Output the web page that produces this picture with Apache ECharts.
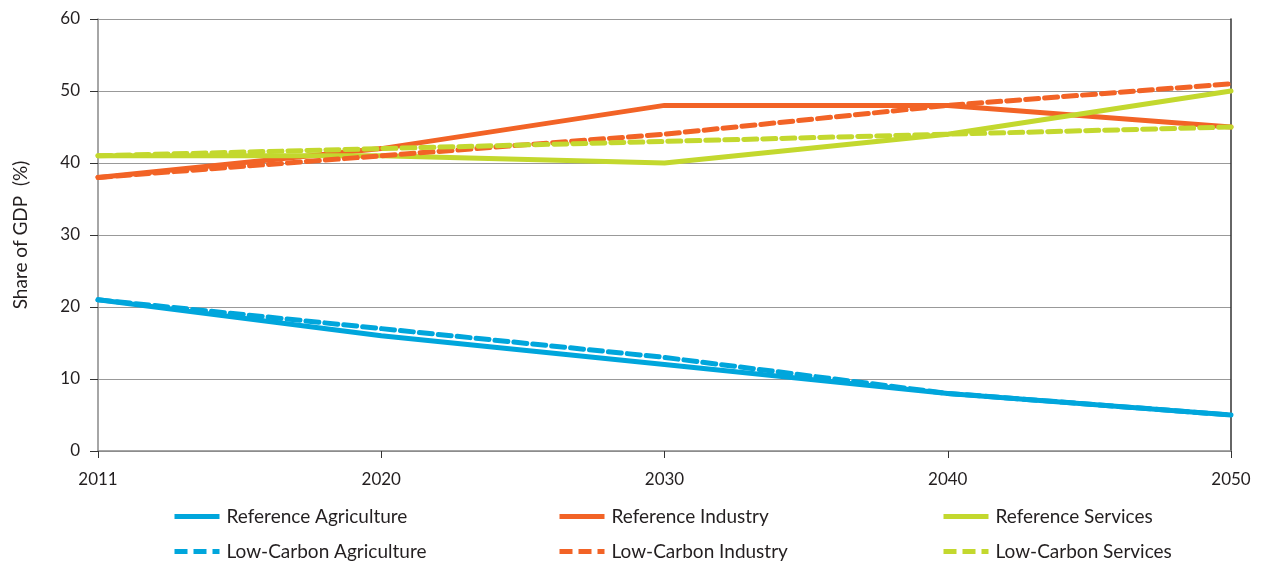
<!DOCTYPE html>
<html>
<head>
<meta charset="utf-8">
<script src="https://cdn.jsdelivr.net/npm/echarts@6/dist/echarts.min.js"></script>
<style>html,body{margin:0;padding:0;background:#fff}#c{width:1266px;height:566px}</style>
</head>
<body>
<div id="c"></div>
<script>
const years = ['2011', '2020', '2030', '2040', '2050'];
const refAgriculture = [21, 16, 12, 8, 5];
const lcAgriculture = [21, 17, 13, 8, 5];
const refIndustry = [38, 42, 48, 48, 45];
const lcIndustry = [38, 41, 44, 48, 51];
const refServices = [41, 41, 40, 44, 50];
const lcServices = [41, 42, 43, 44, 45];
const yTicks = [0, 10, 20, 30, 40, 50, 60];

const BLUE = '#00a6dc', ORANGE = '#f26326', GREEN = '#c3d82e';
const FONT = 'Lato';
const DASH = [13, 6];

function mk(name, data, color, dashed) {
  return {
    name, type: 'line', data, showSymbol: false, symbol: 'none',
    lineStyle: { color, width: 5, type: dashed ? DASH : 'solid', cap: 'round' },
    itemStyle: { color },
    z: dashed ? 3 : 2
  };
}
function lg(name, left, top) {
  return {
    left, top, data: [name], itemWidth: 45, itemHeight: 14, itemGap: 0, padding: 0,
    itemStyle: { opacity: 0 },
    lineStyle: { width: 5, type: 'inherit', cap: 'butt' },
    textStyle: { fontFamily: FONT, fontSize: 19, color: '#231f20', padding: [0, 0, 0, 2] }
  };
}
const chart = echarts.init(document.getElementById('c'), null, { renderer: 'canvas' });
chart.setOption({
  animation: false,
  grid: { left: 98, right: 35, top: 19, bottom: 115, containLabel: false, outerBoundsMode: 'none' },
  xAxis: {
    type: 'category', data: years, boundaryGap: false,
    axisLine: { lineStyle: { color: '#888', width: 1.5 } },
    axisTick: { show: true, length: 7, lineStyle: { color: '#333' }, alignWithLabel: true },
    axisLabel: { fontFamily: FONT, fontSize: 17, color: '#231f20', margin: 20 },
    splitLine: { show: false }
  },
  yAxis: [{
    type: 'value', min: 0, max: 60, interval: 10,
    name: 'Share of GDP  (%)', nameLocation: 'middle', nameGap: 68,
    nameTextStyle: { fontFamily: FONT, fontSize: 19, color: '#231f20' },
    axisLine: { show: true, lineStyle: { color: '#888', width: 1.5 } },
    axisTick: { show: true, inside: false, length: 8, lineStyle: { color: '#333' } },
    axisLabel: { fontFamily: FONT, fontSize: 17, color: '#231f20', margin: 18,
      formatter: v => yTicks.includes(v) ? String(v) : '' },
    splitLine: { lineStyle: { color: '#999', width: 1.2 } }
  }, {
    type: 'value', min: 0, max: 60, interval: 10, position: 'right',
    axisLine: { show: true, lineStyle: { color: '#333', width: 1.5 } },
    axisTick: { show: false }, axisLabel: { show: false }, splitLine: { show: false }
  }],
  legend: [
    lg('Reference Agriculture', 172, 507),
    lg('Low-Carbon Agriculture', 172, 542),
    lg('Reference Industry', 557, 507),
    lg('Low-Carbon Industry', 557, 542),
    lg('Reference Services', 941, 507),
    lg('Low-Carbon Services', 941, 542)
  ],
  series: [
    mk('Reference Agriculture', refAgriculture, BLUE, false),
    mk('Reference Industry', refIndustry, ORANGE, false),
    mk('Reference Services', refServices, GREEN, false),
    mk('Low-Carbon Agriculture', lcAgriculture, BLUE, true),
    mk('Low-Carbon Industry', lcIndustry, ORANGE, true),
    mk('Low-Carbon Services', lcServices, GREEN, true)
  ]
});
</script>
</body>
</html>
